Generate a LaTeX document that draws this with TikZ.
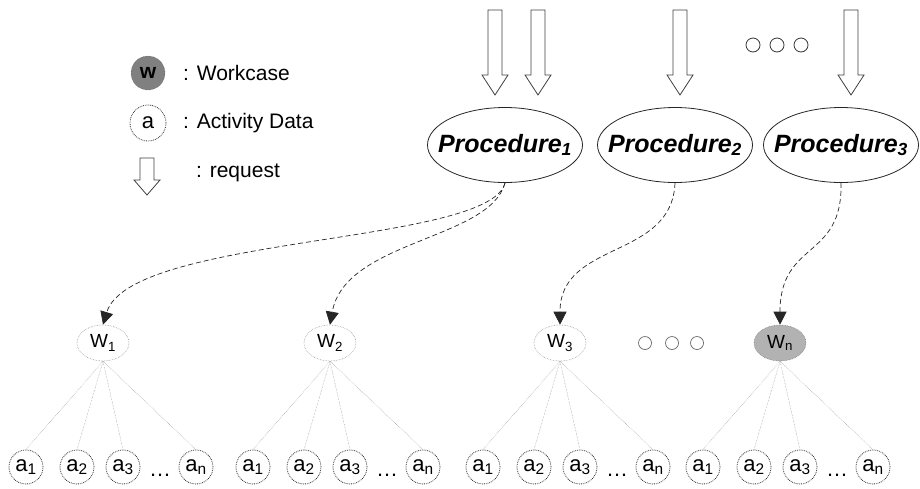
\documentclass[tikz,border=0pt]{standalone}
\usepackage{fontspec}
\setmainfont{Liberation Sans}
\usetikzlibrary{shapes.geometric,arrows.meta}

\tikzset{
  proc/.style = {ellipse, draw=black!85, line width=0.8pt, minimum width=155pt, minimum height=75pt, inner sep=0pt},
  wcase/.style = {ellipse, draw=black!40, densely dotted, line width=0.6pt, minimum width=52pt, minimum height=36pt, inner sep=0pt, font=\fontsize{19}{20}\selectfont},
  adata/.style = {circle, draw=black!80, densely dotted, line width=0.8pt, minimum size=34pt, inner sep=0pt, font=\fontsize{22}{24}\selectfont},
  fan/.style = {draw=black!40, densely dotted, line width=0.5pt},
  call/.style = {draw=black!85, dash pattern=on 5pt off 3pt, line width=0.7pt, -{Triangle[width=13pt,length=13pt]}},
  legtext/.style = {anchor=west, inner sep=0pt, font=\fontsize{21}{22}\selectfont},
  reqarrow/.pic = {\draw[black!75, line width=0.8pt, fill=white] (-7,0) -- (7,0) -- (7,65) -- (13,65) -- (0,85) -- (-13,65) -- (-7,65) -- cycle;},
}

\begin{document}
\begin{tikzpicture}[x=1pt, y=-1pt]
    \useasboundingbox (0,0) rectangle (920,488);

    % Legend
    \node[circle, fill=black!50, draw=black!70, densely dotted, minimum size=34pt, inner sep=0pt, font=\fontsize{21}{22}\selectfont\bfseries] (legW) at (148,73) {w};
    \node[adata, minimum size=36pt] (legA) at (148,123) {a};
    \draw[black!75, line width=0.8pt, fill=white] (140,158) -- (154,158) -- (154,180) -- (160,180) -- (147,195) -- (134,180) -- (140,180) -- cycle;
    \node[legtext] (legWtxt) at (183,73) {: Workcase};
    \node[legtext] (legAtxt) at (183,123) {: Activity Data};
    \node[legtext] (legRtxt) at (196,173) {: request};

    % Requests
    \pic at (495,10) {reqarrow};
    \pic at (538,10) {reqarrow};
    \pic at (680,10) {reqarrow};
    \pic at (851,10) {reqarrow};
    \foreach \x in {753,777,801}
        \draw[black!80, line width=0.8pt] (\x,45) circle (7);

    % Procedures
    \node[proc, label=center:{\fontsize{25}{27}\selectfont\bfseries\itshape Procedure\textsubscript{1}}] (P1) at (505,145) {};
    \node[proc, label=center:{\fontsize{25}{27}\selectfont\bfseries\itshape Procedure\textsubscript{2}}] (P2) at (675,145) {};
    \node[proc, label=center:{\fontsize{25}{27}\selectfont\bfseries\itshape Procedure\textsubscript{3}}] (P3) at (841,145) {};

    % Workcases
    \node[wcase] (W1) at (103,343) {W\textsubscript{1}};
    \node[wcase] (W2) at (330,343) {W\textsubscript{2}};
    \node[wcase] (W3) at (560,343) {W\textsubscript{3}};
    \node[wcase, fill=black!30, draw=black!50] (Wn) at (780,343) {W\textsubscript{n}};
    \foreach \x in {645,672,697}
        \draw[black!60, line width=0.7pt] (\x,343) circle (6.5);

    % Activity data
    \foreach \w/\x in {1/103, 2/330, 3/560, n/780} {
        \foreach \s/\dx in {1/-77, 2/-26, 3/20, n/93} {
            \node[adata] (a\w\s) at (\x+\dx,467) {a\textsubscript{\s}};
            \draw[fan] (W\w.south) -- (a\w\s.north);
        }
        \node[anchor=base, inner sep=0pt, font=\fontsize{22}{24}\selectfont] (dots\w) at (\x+57,476) {\dots};
    }

    % Calls
    \draw[call] (P1.south) .. controls (490,245) and (130,235) .. (W1.north);
    \draw[call] (P1.south) .. controls (490,240) and (345,240) .. (W2.north);
    \draw[call] (P2.south) .. controls (672,260) and (560,240) .. (W3.north);
    \draw[call] (P3.south) .. controls (843,260) and (780,240) .. (Wn.north);
\end{tikzpicture}
\end{document}
